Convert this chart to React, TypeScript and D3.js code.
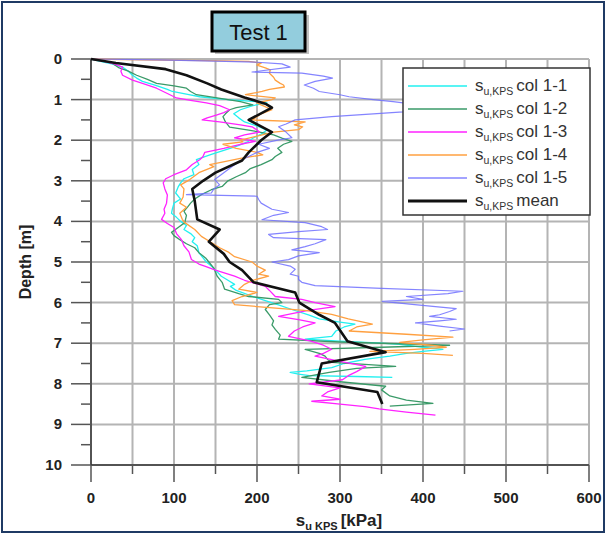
import React from "react";
import * as d3 from "d3";

type P = [number, number]; // [depth m, su kPa]

const xTicks = [0, 100, 200, 300, 400, 500, 600];
const yTicks = [0, 1, 2, 3, 4, 5, 6, 7, 8, 9, 10];

const col11: P[] = [[0,0],[0.05,10],[0.12,25],[0.2,38],[0.3,45],[0.4,50],[0.47,55],[0.55,62],[0.65,78],[0.75,92],[0.8,98],[0.88,118],[0.93,131],[1.0,165],[1.05,200],[1.08,212],[1.15,195],[1.25,180],[1.35,172],[1.45,178],[1.55,185],[1.65,200],[1.75,212],[1.85,205],[1.95,195],[2.05,188],[2.15,175],[2.25,160],[2.35,145],[2.48,127],[2.6,130],[2.72,122],[2.85,124],[2.95,112],[3.05,108],[3.15,105],[3.3,102],[3.45,108],[3.55,100],[3.7,98],[3.8,97],[3.9,103],[4.0,108],[4.1,115],[4.2,112],[4.3,120],[4.4,125],[4.5,122],[4.6,128],[4.77,130],[4.9,135],[5.0,139],[5.1,145],[5.2,150],[5.35,157],[5.45,165],[5.55,173],[5.6,168],[5.7,175],[5.85,195],[5.95,210],[6.05,225],[6.17,242],[6.3,262],[6.4,275],[6.48,300],[6.53,318],[6.6,305],[6.7,295],[6.83,290],[6.9,258],[6.95,300],[7.0,350],[7.03,372],[7.1,400],[7.15,424],[7.2,400],[7.25,380],[7.32,360],[7.4,330],[7.5,305],[7.6,290],[7.68,260],[7.72,240],[7.76,250],[7.8,263],[7.82,320],[7.84,363]];

const col12: P[] = [[0,0],[0.05,15],[0.1,25],[0.22,34],[0.3,45],[0.4,55],[0.5,68],[0.6,79],[0.66,100],[0.72,115],[0.8,120],[0.88,127],[0.95,150],[1.05,180],[1.13,195],[1.2,175],[1.25,167],[1.35,162],[1.42,159],[1.55,162],[1.68,167],[1.75,190],[1.8,203],[1.87,220],[1.95,230],[2.03,242],[2.1,232],[2.2,225],[2.3,230],[2.4,222],[2.48,218],[2.6,205],[2.7,192],[2.8,186],[2.9,175],[3.0,165],[3.14,158],[3.22,145],[3.34,133],[3.45,125],[3.55,120],[3.63,117],[3.75,112],[3.85,115],[4.03,113],[4.15,105],[4.27,97],[4.35,100],[4.45,107],[4.55,115],[4.65,125],[4.77,130],[4.9,138],[5.0,142],[5.15,148],[5.25,150],[5.35,152],[5.5,158],[5.67,161],[5.78,178],[5.85,190],[5.92,226],[6.0,230],[6.05,215],[6.17,210],[6.3,215],[6.45,220],[6.55,218],[6.66,222],[6.8,228],[6.9,226],[6.97,300],[7.02,380],[7.05,432],[7.1,350],[7.15,258],[7.25,275],[7.32,282],[7.4,285],[7.47,290],[7.52,330],[7.57,367],[7.62,320],[7.72,287],[7.84,254],[7.95,300],[8.06,355],[8.15,350],[8.3,360],[8.4,380],[8.48,412],[8.55,360]];

const col13: P[] = [[0,0],[0.05,15],[0.12,28],[0.2,38],[0.3,36],[0.4,38],[0.52,50],[0.6,62],[0.72,79],[0.85,92],[0.96,103],[1.02,120],[1.08,139],[1.15,155],[1.25,167],[1.32,160],[1.38,151],[1.45,140],[1.5,134],[1.55,155],[1.62,180],[1.67,194],[1.75,200],[1.8,203],[1.87,185],[1.94,173],[2.03,198],[2.1,180],[2.2,160],[2.3,137],[2.4,135],[2.48,131],[2.6,122],[2.73,115],[2.85,100],[2.95,90],[3.05,87],[3.2,89],[3.35,92],[3.55,91],[3.7,88],[3.8,89],[3.95,85],[4.05,92],[4.15,100],[4.3,103],[4.45,109],[4.6,112],[4.75,118],[4.94,121],[5.05,130],[5.1,137],[5.2,150],[5.35,173],[5.45,185],[5.55,202],[5.6,210],[5.7,215],[5.85,222],[5.92,254],[6.0,270],[6.1,294],[6.2,260],[6.34,226],[6.42,250],[6.5,270],[6.6,255],[6.7,245],[6.83,238],[6.95,265],[7.05,280],[7.15,290],[7.25,280],[7.32,270],[7.45,300],[7.57,331],[7.7,320],[7.8,310],[7.9,303],[8.0,263],[8.1,300],[8.2,285],[8.3,278],[8.38,300],[8.43,266],[8.5,300],[8.56,330],[8.62,347],[8.7,380],[8.77,415]];

const col14: P[] = [[0,0],[0.02,60],[0.04,140],[0.06,190],[0.1,205],[0.15,200],[0.22,210],[0.27,216],[0.35,215],[0.45,220],[0.52,222],[0.6,228],[0.64,232],[0.69,233],[0.75,215],[0.8,206],[0.88,186],[0.96,222],[1.0,218],[1.08,200],[1.13,205],[1.25,218],[1.35,205],[1.45,198],[1.5,194],[1.55,258],[1.62,245],[1.67,255],[1.74,250],[1.8,220],[1.9,200],[2.0,180],[2.04,183],[2.1,159],[2.2,175],[2.3,200],[2.36,207],[2.45,180],[2.55,155],[2.6,143],[2.65,148],[2.8,130],[2.97,119],[3.1,108],[3.2,112],[3.4,111],[3.55,107],[3.65,115],[3.8,107],[3.95,110],[4.03,113],[4.2,125],[4.37,133],[4.52,145],[4.65,155],[4.75,165],[4.87,173],[5.0,194],[5.1,200],[5.2,210],[5.3,202],[5.35,214],[5.45,195],[5.55,185],[5.67,178],[5.75,200],[5.85,182],[5.95,170],[6.05,173],[6.15,230],[6.2,260],[6.29,290],[6.4,310],[6.53,339],[6.6,320],[6.7,311],[6.78,380],[6.85,436],[6.92,400],[6.98,372],[7.05,410],[7.1,428],[7.15,390],[7.2,336],[7.25,400],[7.3,436]];

const col15: P[] = [[0,0],[0.02,80],[0.05,150],[0.08,200],[0.12,230],[0.2,240],[0.32,194],[0.35,254],[0.42,280],[0.47,291],[0.55,270],[0.64,257],[0.72,268],[0.8,275],[0.88,300],[0.93,311],[1.0,340],[1.05,364],[1.08,376],[1.12,420],[1.15,440],[1.2,445],[1.25,420],[1.28,380],[1.3,376],[1.35,340],[1.42,290],[1.5,246],[1.6,235],[1.67,226],[1.8,235],[1.94,242],[2.0,225],[2.1,202],[2.2,215],[2.3,200],[2.4,190],[2.48,182],[2.65,170],[2.8,160],[2.97,149],[3.1,155],[3.2,148],[3.3,145],[3.34,115],[3.38,200],[3.46,202],[3.55,205],[3.7,218],[3.78,238],[3.85,220],[3.96,206],[4.03,258],[4.13,278],[4.2,285],[4.25,250],[4.32,214],[4.4,220],[4.45,283],[4.55,270],[4.62,258],[4.7,242],[4.77,275],[4.85,250],[4.94,238],[5.0,218],[5.1,240],[5.18,246],[5.3,240],[5.35,250],[5.43,250],[5.5,254],[5.58,270],[5.65,350],[5.72,448],[5.78,430],[5.85,380],[5.92,400],[5.97,351],[6.05,390],[6.1,415],[6.15,440],[6.22,432],[6.3,420],[6.34,408],[6.41,440],[6.45,420],[6.5,391],[6.58,420],[6.65,450],[6.7,432]];

const meanSeries: P[] = [[0,0],[0.1,30],[0.25,90],[0.4,115],[0.6,140],[0.75,157],[0.95,185],[1.1,210],[1.2,218],[1.5,190],[1.8,218],[2.0,205],[2.3,190],[2.5,182],[2.8,150],[3.0,135],[3.2,122],[3.5,125],[3.95,128],[4.2,155],[4.5,142],[4.8,160],[5.0,167],[5.2,182],[5.5,196],[5.75,246],[6.0,251],[6.3,275],[6.5,294],[6.95,309],[7.22,355],[7.5,278],[7.96,272],[8.2,345],[8.5,351]];

const seriesNames = ["col 1-1", "col 1-2", "col 1-3", "col 1-4", "col 1-5", "mean"];
const seriesData = [col11, col12, col13, col14, col15, meanSeries];
const seriesColors = ["#22f0f0", "#3a9a68", "#ff22ff", "#ffa040", "#6f6fff", "#111111"];
const seriesWidths = [1.3, 1.3, 1.3, 1.3, 1.2, 2.6];

const FONT = "Arial, 'Liberation Sans', sans-serif";

export default function App() {
  const x = d3.scaleLinear().domain([0, 600]).range([91, 589]);
  const y = d3.scaleLinear().domain([0, 10]).range([59, 465]);
  const line = d3.line<P>().x((d) => x(d[1])).y((d) => y(d[0]));

  const xGrid = d3.range(0, 601, 50);
  const yMinor = d3.range(0.5, 10, 1);

  const legX = 403, legY = 68, legW = 187, legH = 147;
  const legRows = [86, 109, 132, 155, 178, 201];

  return (
    <svg width={606} height={534} style={{ position: "absolute", left: 0, top: 0, background: "#fff" }} fontFamily={FONT}>
      <rect x={2} y={2} width={602} height={530} fill="#fff" stroke="#1f3a64" strokeWidth={2} />
      {/* grid */}
      {xGrid.map((v) => (
        <line key={"gx" + v} x1={x(v)} x2={x(v)} y1={y(0)} y2={y(10)} stroke="#b4b4b4" strokeWidth={2} />
      ))}
      {yTicks.map((v) => (
        <line key={"gy" + v} x1={x(0)} x2={x(600)} y1={y(v)} y2={y(v)} stroke="#b4b4b4" strokeWidth={2} />
      ))}
      {/* axes */}
      <line x1={x(0)} x2={x(0)} y1={y(0)} y2={y(10)} stroke="#333" strokeWidth={1.5} />
      <line x1={x(0)} x2={x(600)} y1={y(10)} y2={y(10)} stroke="#333" strokeWidth={1.5} />
      {yTicks.map((v) => (
        <g key={"yt" + v}>
          <line x1={x(0) - 20} x2={x(0)} y1={y(v)} y2={y(v)} stroke="#555" strokeWidth={1.5} />
          <text x={62} y={y(v) + 5} textAnchor="end" fontSize={15} fontWeight="bold" fill="#222">{v}</text>
        </g>
      ))}
      {yMinor.map((v) => (
        <line key={"ym" + v} x1={x(0) - 10} x2={x(0)} y1={y(v)} y2={y(v)} stroke="#555" strokeWidth={1.5} />
      ))}
      {xGrid.map((v) => (
        <line key={"xt" + v} x1={x(v)} x2={x(v)} y1={y(10)} y2={y(10) + (v % 100 === 0 ? 17 : 9)} stroke="#555" strokeWidth={1.5} />
      ))}
      {xTicks.map((v) => (
        <text key={"xl" + v} x={x(v)} y={503} textAnchor="middle" fontSize={15} fontWeight="bold" fill="#222">{v}</text>
      ))}
      {/* axis titles */}
      <text x={339} y={526} textAnchor="middle" fontWeight="bold" fill="#222" fontSize={17}>
        <tspan>s</tspan>
        <tspan fontSize={11} dy={4}>u KPS</tspan>
        <tspan dy={-4} dx={3}>[kPa]</tspan>
      </text>
      <text transform="translate(31,262) rotate(-90)" textAnchor="middle" fontWeight="bold" fontSize={16} fill="#222">Depth [m]</text>
      {/* series */}
      {seriesData.map((s, i) => (
        <path key={"s" + i} d={line(s) || ""} fill="none" stroke={seriesColors[i]} strokeWidth={seriesWidths[i]} strokeLinejoin="round" opacity={i === 4 ? 0.85 : 1} />
      ))}
      {/* legend */}
      <rect x={legX} y={legY} width={legW} height={legH} fill="#fff" stroke="#333" strokeWidth={1.5} />
      {seriesNames.map((n, i) => (
        <g key={"lg" + i}>
          <line x1={408} x2={467} y1={legRows[i]} y2={legRows[i]} stroke={seriesColors[i]} strokeWidth={i === 5 ? 3 : 1.5} opacity={i === 4 ? 0.85 : 1} />
          <text x={475} y={legRows[i] + 5} fontSize={17} fill="#333">
            <tspan>s</tspan>
            <tspan fontSize={10.5} dy={4}>u,KPS</tspan>
            <tspan dy={-4} dx={3}>{n}</tspan>
          </text>
        </g>
      ))}
      {/* title */}
      <rect x={215} y={15} width={94} height={39} fill="#999" opacity={0.6} />
      <rect x={212} y={12} width={93} height={39} fill="#93cddd" stroke="#000" strokeWidth={3} />
      <text x={258.5} y={39.5} textAnchor="middle" fontSize={22} fill="#111">Test 1</text>
    </svg>
  );
}
